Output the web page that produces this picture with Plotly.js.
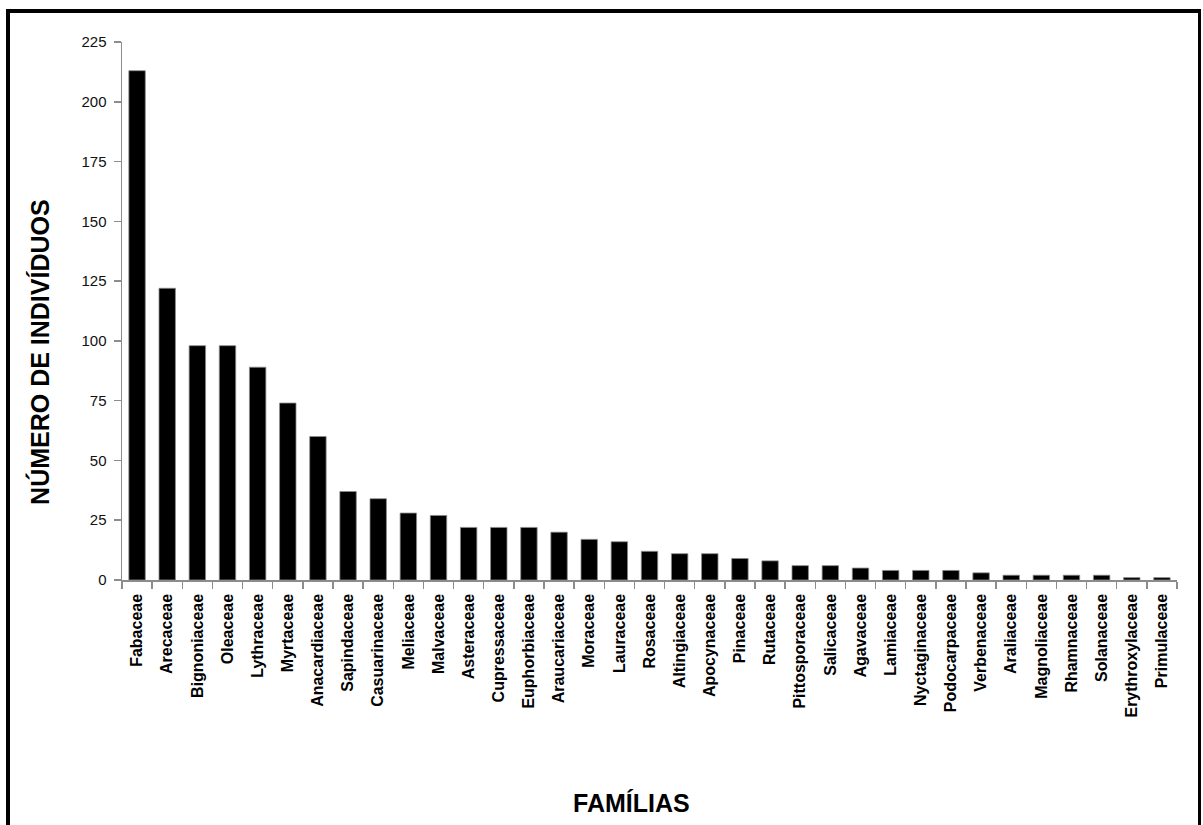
<!DOCTYPE html>
<html>
<head>
<meta charset="utf-8">
<script src="https://cdn.plot.ly/plotly-3.0.1.min.js"></script>
<style>
  html, body { margin: 0; padding: 0; background: #fff; }
  #wrap { position: relative; width: 1203px; height: 825px; overflow: hidden; }
  #chart { position: absolute; left: 0; top: 0; width: 1203px; height: 825px; }
  #frame { position: absolute; left: 6px; top: 9px; width: 1195px; height: 816px;
           box-sizing: border-box; border-top: 4px solid #000; border-left: 4px solid #000;
           border-right: 3px solid #000; pointer-events: none; }
</style>
</head>
<body>
<div id="wrap">
  <div id="chart"></div>
  <div id="frame"></div>
</div>
<script>
const families = ["Fabaceae","Arecaceae","Bignoniaceae","Oleaceae","Lythraceae","Myrtaceae",
  "Anacardiaceae","Sapindaceae","Casuarinaceae","Meliaceae","Malvaceae","Asteraceae",
  "Cupressaceae","Euphorbiaceae","Araucariaceae","Moraceae","Lauraceae","Rosaceae",
  "Altingiaceae","Apocynaceae","Pinaceae","Rutaceae","Pittosporaceae","Salicaceae",
  "Agavaceae","Lamiaceae","Nyctaginaceae","Podocarpaceae","Verbenaceae","Araliaceae",
  "Magnoliaceae","Rhamnaceae","Solanaceae","Erythroxylaceae","Primulaceae"];
const individuals = [213,122,98,98,89,74,60,37,34,28,27,22,22,22,20,17,16,12,11,11,9,8,6,6,5,4,4,4,3,2,2,2,2,1,1];
const yTicks = [0,25,50,75,100,125,150,175,200,225];
const yTitle = "NÚMERO DE INDIVÍDUOS";
const xTitle = "FAMÍLIAS";

const trace = {
  type: "bar",
  x: families,
  y: individuals,
  marker: { color: "#000000", line: { color: "#8a8a8a", width: 0.8 } },
  hoverinfo: "x+y"
};

const layout = {
  width: 1203,
  height: 825,
  margin: { l: 122, r: 26, t: 42, b: 245 },
  paper_bgcolor: "#ffffff",
  plot_bgcolor: "#ffffff",
  bargap: 0.455,
  showlegend: false,
  font: { family: "Liberation Sans, Arial, sans-serif", color: "#000" },
  xaxis: {
    type: "category",
    showgrid: false,
    zeroline: false,
    showline: true,
    linecolor: "#8c8c8c",
    linewidth: 1.5,
    ticks: "outside",
    tickson: "boundaries",
    ticklen: 7,
    tickcolor: "#8c8c8c",
    tickwidth: 1.5,
    tickangle: -90,
    ticklabelstandoff: 6,
    tickfont: { family: "Liberation Sans, Arial, sans-serif", size: 16, color: "#000", weight: "bold" },
    range: [-0.5, 34.5]
  },
  yaxis: {
    range: [0, 225],
    tickvals: yTicks,
    ticktext: yTicks.map(String),
    showgrid: false,
    zeroline: false,
    showline: true,
    linecolor: "#8c8c8c",
    linewidth: 1.5,
    ticks: "outside",
    ticklen: 7,
    tickcolor: "#8c8c8c",
    tickwidth: 1.5,
    ticklabelstandoff: 4,
    tickfont: { family: "Liberation Sans, Arial, sans-serif", size: 15, color: "#111" }
  },
  annotations: [
    {
      text: "<b>" + yTitle + "</b>",
      xref: "paper", yref: "paper",
      x: -0.0777, y: 0.424,
      xanchor: "center", yanchor: "middle",
      textangle: -90, showarrow: false,
      font: { family: "Liberation Sans, Arial, sans-serif", size: 25, color: "#000" }
    },
    {
      text: "<b>" + xTitle + "</b>",
      xref: "paper", yref: "paper",
      x: 0.483, y: -0.4145,
      xanchor: "center", yanchor: "middle",
      showarrow: false,
      font: { family: "Liberation Sans, Arial, sans-serif", size: 25, color: "#000" }
    }
  ]
};

Plotly.newPlot("chart", [trace], layout, { displayModeBar: false, staticPlot: true });
</script>
</body>
</html>
